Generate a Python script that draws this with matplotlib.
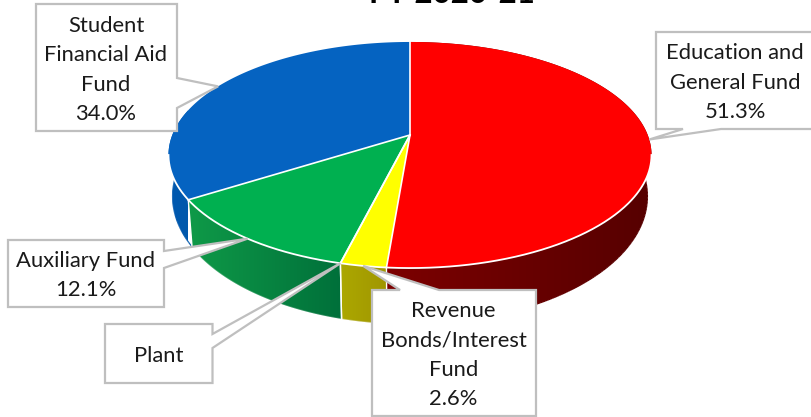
"""FY 2020-21 fund shares as a tilted 3D pie, drawn with polygons."""

import numpy as np
import matplotlib
matplotlib.use("Agg")
import matplotlib.pyplot as plt
from matplotlib.collections import LineCollection

TITLE = "FY 2020-21"

# clockwise from 12 o'clock
FUNDS = ["Education and\nGeneral Fund", "Revenue\nBonds/Interest\nFund", "Plant",
         "Auxiliary Fund", "Student\nFinancial Aid\nFund"]
SHARES = [51.3, 2.6, 0.0, 12.1, 34.0]
SHOW_SHARE = [True, True, False, True, True]

TOP_COLORS = ["#ff0000", "#ffff00", "#00b050", "#00b050", "#0563c1"]
SIDE_LEFT = ["#7c0000", "#aca800", "#0f9a48", "#0f9a48", "#0058b0"]
SIDE_RIGHT = ["#560000", "#a09600", "#00703a", "#00703a", "#0058ac"]

# label boxes in pixels: left, top, right, bottom, pointer side, pointer start, pointer end
BOXES = [
    (656, 32, 816, 129, "bottom", 721, 683),
    (372, 290, 536, 416, "top", 400, 439),
    (105, 324, 212.5, 383, "right", 334, 348),
    (8, 240, 164, 307, "right", 251, 268),
    (36, 4, 177, 131, "right", 78, 108),
]
LABEL_POS = [(735, 82.5), (453.5, 355), (159, 356), (86, 275.5), (106, 70)]

# perspective of the pie, in pixels
CX, CY = 410, 135
SX, SY = 237.7, 109.5
K = 0.177
EDGE = "#bfbfbf"


def rim(theta):
    u, v = np.sin(theta), np.cos(theta)
    w = 1 + K * v
    return CX + SX * u / w, CY - SY * v / w


def lower(x, y):
    # same rim, one pie thickness further down
    return CX + (x - CX) * 0.983, y + 47 + (y - 200) * 0.127


def draw_sides(ax, edges):
    start = np.arccos(-K)
    for i in range(len(SHARES)):
        if SHARES[i] == 0:
            continue
        th = np.linspace(edges[i], edges[i + 1], 300)
        x, y = rim(th)
        xb, yb = lower(x, y)
        # only the front part of the rim sets the gradient range
        front = (th > start) & (th < 2 * np.pi - start)
        lo, hi = x[front].min(), x[front].max()
        c0 = np.array(matplotlib.colors.to_rgb(SIDE_LEFT[i]))
        c1 = np.array(matplotlib.colors.to_rgb(SIDE_RIGHT[i]))
        ramp = np.linspace(0, 1, 256)[None, :, None]
        img = c0 + (c1 - c0) * ramp

        poly = plt.Polygon(np.c_[np.r_[x, xb[::-1]], np.r_[y, yb[::-1]]], closed=True,
                           fc="none", ec="none", transform=ax.transData)
        ax.add_patch(poly)
        im = ax.imshow(img, extent=(lo, hi, 417, 0), aspect="auto", zorder=2, interpolation="bilinear")
        im.set_clip_path(poly)

        # image clip is jagged, so stroke the outer edge in the same colours
        t = np.clip((xb[:-1] - lo) / (hi - lo), 0, 1)[:, None]
        segs = np.stack([np.c_[xb[:-1], yb[:-1]], np.c_[xb[1:], yb[1:]]], axis=1)
        ax.add_collection(LineCollection(segs, colors=c0 + (c1 - c0) * t, linewidths=0.9, zorder=2))
    ax.set_xlim(0, 812)
    ax.set_ylim(417, 0)


def draw_top(ax, edges):
    for i in range(len(SHARES)):
        if SHARES[i] == 0:
            continue
        x, y = rim(np.linspace(edges[i], edges[i + 1], 300))
        ax.fill(np.r_[CX, x], np.r_[CY, y], color=TOP_COLORS[i], lw=0, zorder=3)


def draw_white_lines(ax, edges):
    start = np.arccos(-K)
    x, y = rim(np.linspace(start, 2 * np.pi - start, 400))
    ax.plot(x, y, color="white", lw=1.3, zorder=4)
    for a in edges[:-1]:
        x, y = rim(a)
        ax.plot([CX, x], [CY, y], color="white", lw=1.2, zorder=4)
        if start < a < 2 * np.pi - start:
            xb, yb = lower(x, y)
            ax.plot([x, xb], [y, yb], color="white", lw=1.0, zorder=4)


def draw_label(ax, box, tip, text, pos):
    l, t, r, b, side, p0, p1 = box
    if side == "right":
        pts = [(l, t), (r, t), (r, p0), tip, (r, p1), (r, b), (l, b)]
    elif side == "top":
        pts = [(l, t), (p0, t), tip, (p1, t), (r, t), (r, b), (l, b)]
    else:
        pts = [(l, t), (r, t), (r, b), (p0, b), tip, (p1, b), (l, b)]
    ax.add_patch(plt.Polygon(pts, closed=True, fc="white", ec=EDGE, lw=1.6, joinstyle="miter", zorder=5))
    ax.text(pos[0], pos[1], text, ha="center", va="center", fontsize=15.8, color="#1a1a1a",
            linespacing=1.58, zorder=6)


def main():
    plt.rcParams["font.family"] = ["Lato", "DejaVu Sans"]
    fig = plt.figure(figsize=(8.12, 4.17), dpi=100)
    ax = fig.add_axes([0, 0, 1, 1])
    ax.set_xlim(0, 812)
    ax.set_ylim(417, 0)
    ax.axis("off")

    edges = np.r_[0, np.cumsum(SHARES)] / sum(SHARES) * 2 * np.pi

    draw_sides(ax, edges)
    draw_top(ax, edges)
    draw_white_lines(ax, edges)

    for i, name in enumerate(FUNDS):
        tip = rim((edges[i] + edges[i + 1]) / 2)
        text = f"{name}\n{SHARES[i]:.1f}%" if SHOW_SHARE[i] else name
        draw_label(ax, BOXES[i], tip, text, LABEL_POS[i])

    ax.text(452, 3, TITLE, ha="center", va="baseline", fontsize=22.5, fontweight="bold", color="black")

    fig.savefig("out.png", dpi=100)


if __name__ == "__main__":
    main()
